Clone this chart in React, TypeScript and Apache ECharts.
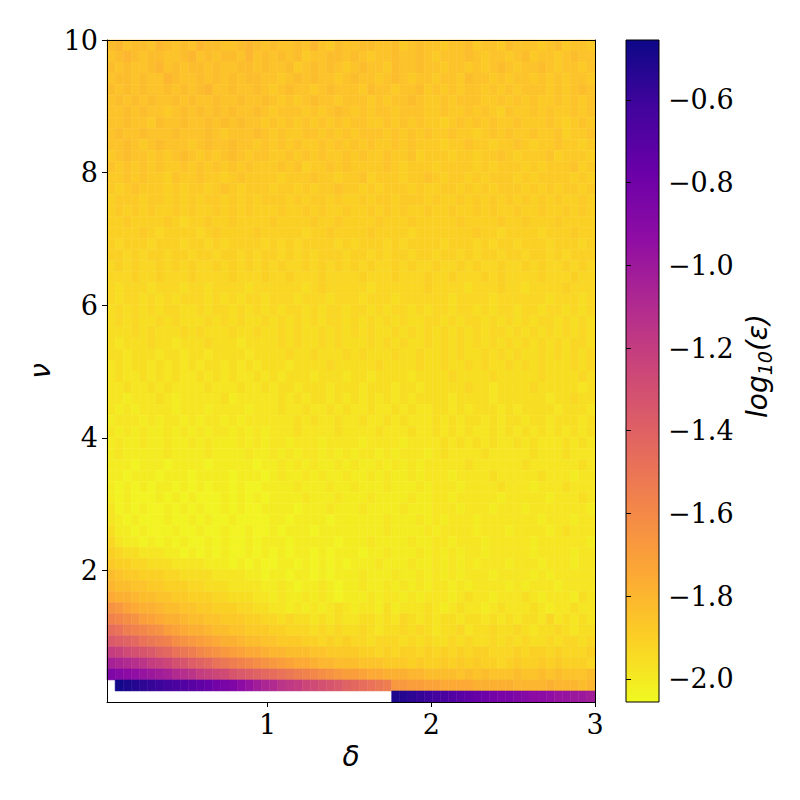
import React, { useEffect, useRef } from "react";
import * as echarts from "echarts";

// value encoding of the grid: each character is a level, value = LEVEL_BASE + index * LEVEL_STEP, "." = no data
const LEVEL_CHARS = "0123456789ABCDEFGHIJKLMNOPQRSTUVWXYZabcdefghijklmnopqrstuvwxyz";
const LEVEL_BASE = -2.06;
const LEVEL_STEP = 0.026;

const deltaRange = [0.02, 3.0];
const nuRange = [0.02, 10.0];
const deltaTicks = [1, 2, 3];
const nuTicks = [2, 4, 6, 8, 10];
const colorRange = [-2.056, -0.455];
const colorTicks = [-2.0, -1.8, -1.6, -1.4, -1.2, -1.0, -0.8, -0.6];
const plasma = [
  "#0d0887", "#41049d", "#6a00a8", "#8f0da4", "#b12a90", "#cc4778",
  "#e16462", "#f2844b", "#fca636", "#fcce25", "#f0f921",
];

// log10(eps) grid, 60 rows (nu) x 60 columns (delta); top row (nu ~ 10) first
const gridRows = [
  "9A8998A989 8A99889A98 98898A8798 8998897898 8788978879 8887897887",
  "89A9899889 A898998A89 8989788998 9878898898 7888987887 8978878988",
  "989889A898 9989889989 8897898987 8988798898 8788787898 7889878878",
  "8998988A98 8989898998 8789898878 9887898788 7887988787 8878787887",
  "9898988989 89A8898898 7898878988 8798878897 8787887878 7888787898",
  "8989898898 9889889889 8787898878 8878788987 7878887787 8787787878",
  "8898988789 8989898898 7888787898 7878878887 7877878768 7787877878",
  "8898879889 8898989887 8787878787 8877878787 7678787877 8777876787",
  "8988988898 8898788898 7877887878 7888787878 7787767878 7787786778",
  "8898789888 7898898878 7878778787 8787787877 7677877677 8767787767",
  "7898878789 8787898788 7787878778 7877877867 7767767787 6777867776",
  "8787878778 7878787877 7878677878 7777876777 6777767677 7676777867",
  "7787877687 7877678777 7677787767 7867776778 7677676777 6767777676",
  "7678777676 7767876777 6776767787 7676777676 6776767677 7676767767",
  "6777677676 7677676767 7767677676 6767767776 7667676767 6767676676",
  "6767676676 7667676766 6766767667 6676767667 6676676766 7667667676",
  "6676666765 6676676666 7666676676 6667666766 6667666676 6766676666",
  "6666765666 6567666676 6666566766 6676666566 6666676656 6665666766",
  "6566656665 6656566665 6565666656 5666565666 6566656566 5666566656",
  "6656566566 5665665656 6565656665 6656566566 5665656656 6566565666",
  "5656556565 6556565656 5655656565 6565565655 6556565565 5656556565",
  "5556556555 6555565556 5565556555 5655565556 5565556565 5556555655",
  "5455545554 5545555455 5555456555 5545555556 5555455565 5455556555",
  "5455454545 5545454554 5554555455 5455545555 5545555455 5555455545",
  "4545454554 4545545454 5455454554 5545455454 5545545455 4554554545",
  "4545445454 4454545445 4545454554 5454545445 5454554545 4545545454",
  "4445454445 4544454454 4545445454 5454454545 4545454554 5454545454",
  "4344454434 4454443444 4545445454 4454545445 4545454545 4545454554",
  "4434443443 4434444344 4454454445 4544454454 4545445454 5445454545",
  "3434434343 4344343434 4434444544 4445444454 4544545445 4545444545",
  "3433434343 3434343343 4344434443 4434444344 4454444544 4445444454",
  "3343343433 3343334334 3443444344 4344434434 4444544344 4454444434",
  "3323334323 3333423333 3434344343 4343434344 4434444344 4444344544",
  "3232333323 3323333233 3433433434 3343343433 4434344434 3444434443",
  "2333232332 3233232333 3334343343 3433434333 4343443434 4344344434",
  "3232322323 2323323232 3334333343 3334333433 4343433434 3434343434",
  "2322322322 3232223232 3323332333 3233332333 3434343433 4343334343",
  "2322222322 2232222322 3232332323 2332323332 3433334333 3343334333",
  "2221222122 2212222212 2323232232 3223232323 3333433333 3433333343",
  "2212221222 1222212221 2322323223 2232322323 3323333433 3334333233",
  "2121212212 1212212112 2223222322 3222322232 3332333343 3323334333",
  "2121112121 2111212121 2222322232 2232222322 3323333323 3333233343",
  "3121211212 1211212112 2221222322 2322223222 3332333233 3233333332",
  "3212111211 2121121111 2212222122 2222322232 3233323333 3332333233",
  "4221211121 1211211211 2122212222 2222322223 2333323332 3333234333",
  "5322121212 1121211212 2212222212 2232222322 3323332333 3323333332",
  "6544333221 2121211212 1212212122 2122322232 3232332333 3323333233",
  "7665544433 3322212121 1221212121 2223222322 3232323332 3332333233",
  "9877666554 4443333221 2212212122 2322232232 3232333233 3323233333",
  "A998877666 5544433332 2321223212 2322323232 3323233332 3233323333",
  "CBBA998877 6665544433 2322323212 2232332323 3323433233 3432333243",
  "GFDCBBA998 8776665544 3323232343 2332423334 3234332343 3343233433",
  "JIHGEDCBBA 9988777665 5454434343 3443435434 3443443434 3443534343",
  "NMKJIHGEDC BBA9988777 6655545454 4543445454 3445344544 5434454344",
  "RQPOMLKJHG FEDCBBA998 8777665656 5545554545 4454544545 4544545545",
  "XWUTSRPOML KIHGFEDCCB AA99988777 7665656656 5656566555 6566565556",
  "dcbaZXWVTS QPOMLKJIHG FEDCCBAA99 9888777676 6767676656 7667676665",
  "kjihgfedba ZXWVUSRQPO NMLKJIHGFE EDCCBBBAA9 9998989888 9889898889",
  ".zyxwvutsr qpomlkigec bZYXVUTSRP ONMLKFFEED DCCCCBBBBB AAAABAAA9A",
  ".......... .......... .......... .....yxwvu tsrqponmll kjiihggffe",
];

const N_COLS = 60;

function buildCells() {
  const rows = gridRows.map((s) => s.replace(/\s+/g, ""));
  const nRows = rows.length;
  const w = (deltaRange[1] - deltaRange[0]) / N_COLS;
  const h = (nuRange[1] - nuRange[0]) / nRows;
  const cells: number[][] = [];
  rows.forEach((row, i) => {
    const r = nRows - 1 - i;
    for (let c = 0; c < N_COLS; c++) {
      const ch = row[c];
      const k = ch ? LEVEL_CHARS.indexOf(ch) : -1;
      if (k < 0) continue;
      cells.push([
        deltaRange[0] + c * w,
        deltaRange[0] + (c + 1) * w,
        nuRange[0] + r * h,
        nuRange[0] + (r + 1) * h,
        LEVEL_BASE + k * LEVEL_STEP,
      ]);
    }
  });
  return cells;
}

const SERIF = "'DejaVu Serif', serif";
const SANS = "'DejaVu Sans', sans-serif";
const minus = (v: number) => (v < 0 ? "\u2212" : "") + Math.abs(v).toFixed(1);

export default function App() {
  const ref = useRef<HTMLDivElement>(null);
  useEffect(() => {
    document.body.style.margin = "0";
    if (!ref.current) return;
    const chart = echarts.init(ref.current, undefined, { renderer: "svg" });
    const cells = buildCells();
    const spine = { show: true, onZero: false, lineStyle: { color: "#000", width: 1 } };
    const option: any = {
      animation: false,
      backgroundColor: "#ffffff",
      grid: [
        { left: 107, top: 40, width: 488, height: 662 },
        { left: 626, top: 40, width: 33, height: 662 },
      ],
      xAxis: [
        {
          gridIndex: 0, type: "value", min: deltaRange[0], max: deltaRange[1], z: 10,
          axisLine: spine,
          axisTick: { show: true, inside: false, length: 5, customValues: deltaTicks, lineStyle: { color: "#000", width: 1 } },
          axisLabel: { customValues: deltaTicks, color: "#000", fontFamily: SERIF, fontSize: 27, margin: 9 },
          splitLine: { show: false },
        },
        {
          gridIndex: 0, type: "value", position: "top", min: deltaRange[0], max: deltaRange[1], z: 10,
          axisLine: spine, axisTick: { show: false }, axisLabel: { show: false }, splitLine: { show: false },
        },
        { gridIndex: 1, type: "value", min: 0, max: 1, show: false },
      ],
      yAxis: [
        {
          gridIndex: 0, type: "value", min: nuRange[0], max: nuRange[1], z: 10,
          axisLine: spine,
          axisTick: { show: true, inside: false, length: 5, customValues: nuTicks, lineStyle: { color: "#000", width: 1 } },
          axisLabel: { customValues: nuTicks, color: "#000", fontFamily: SERIF, fontSize: 27, margin: 9 },
          splitLine: { show: false },
        },
        {
          gridIndex: 0, type: "value", position: "right", min: nuRange[0], max: nuRange[1], z: 10,
          axisLine: spine, axisTick: { show: false }, axisLabel: { show: false }, splitLine: { show: false },
        },
        {
          gridIndex: 1, type: "value", position: "right", min: colorRange[0], max: colorRange[1], z: 10,
          axisLine: { show: false },
          axisTick: { show: true, inside: false, length: 5, customValues: colorTicks, lineStyle: { color: "#000", width: 1 } },
          axisLabel: { customValues: colorTicks, color: "#000", fontFamily: SERIF, fontSize: 27, margin: 9, formatter: (v: number) => minus(v) },
          splitLine: { show: false },
        },
      ],
      visualMap: {
        type: "continuous", show: false, seriesIndex: 0, dimension: 4,
        min: colorRange[0], max: colorRange[1],
        inRange: { color: plasma.slice().reverse() },
      },
      series: [
        {
          type: "custom", xAxisIndex: 0, yAxisIndex: 0, data: cells,
          encode: { x: [0, 1], y: [2, 3] },
          renderItem: (params: any, api: any) => {
            const p0 = api.coord([api.value(0), api.value(3)]);
            const p1 = api.coord([api.value(1), api.value(2)]);
            const color = api.visual("color");
            return {
              type: "rect",
              shape: { x: p0[0], y: p0[1], width: p1[0] - p0[0], height: p1[1] - p0[1] },
              style: { fill: color, stroke: color, lineWidth: 0.5 },
            };
          },
        },
        {
          type: "custom", xAxisIndex: 2, yAxisIndex: 2,
          data: [[0, 1, colorRange[0], colorRange[1]]],
          encode: { x: [0, 1], y: [2, 3] },
          z: 3,
          renderItem: (params: any, api: any) => {
            const p0 = api.coord([api.value(0), api.value(3)]);
            const p1 = api.coord([api.value(1), api.value(2)]);
            const stops = plasma.map((c, i) => ({ offset: i / (plasma.length - 1), color: c }));
            return {
              type: "rect",
              shape: { x: p0[0], y: p0[1], width: p1[0] - p0[0], height: p1[1] - p0[1] },
              style: {
                fill: new echarts.graphic.LinearGradient(0, 0, 0, 1, stops),
                stroke: "#000", lineWidth: 1,
              },
            };
          },
        },
      ],
      graphic: [
        {
          type: "text", x: 351, y: 756,
          style: { text: "\u03b4", fontFamily: SANS, fontStyle: "italic", fontSize: 28, fill: "#000", align: "center", verticalAlign: "middle" },
        },
        {
          type: "text", x: 40, y: 371, rotation: Math.PI / 2,
          style: { text: "\u03bd", fontFamily: SANS, fontStyle: "italic", fontSize: 28, fill: "#000", align: "center", verticalAlign: "middle" },
        },
        {
          type: "text", x: 757, y: 366, rotation: Math.PI / 2,
          style: {
            text: "{a|log}{b|10}{a|(\u03b5)}",
            align: "center", verticalAlign: "middle",
            rich: {
              a: { fontFamily: SANS, fontStyle: "italic", fontSize: 28, fill: "#000", lineHeight: 34, verticalAlign: "middle" },
              b: { fontFamily: SANS, fontStyle: "italic", fontSize: 19, fill: "#000", lineHeight: 20, verticalAlign: "bottom" },
            },
          },
        },
      ],
    };
    chart.setOption(option);
    return () => chart.dispose();
  }, []);
  return <div ref={ref} style={{ width: 800, height: 800 }} />;
}
